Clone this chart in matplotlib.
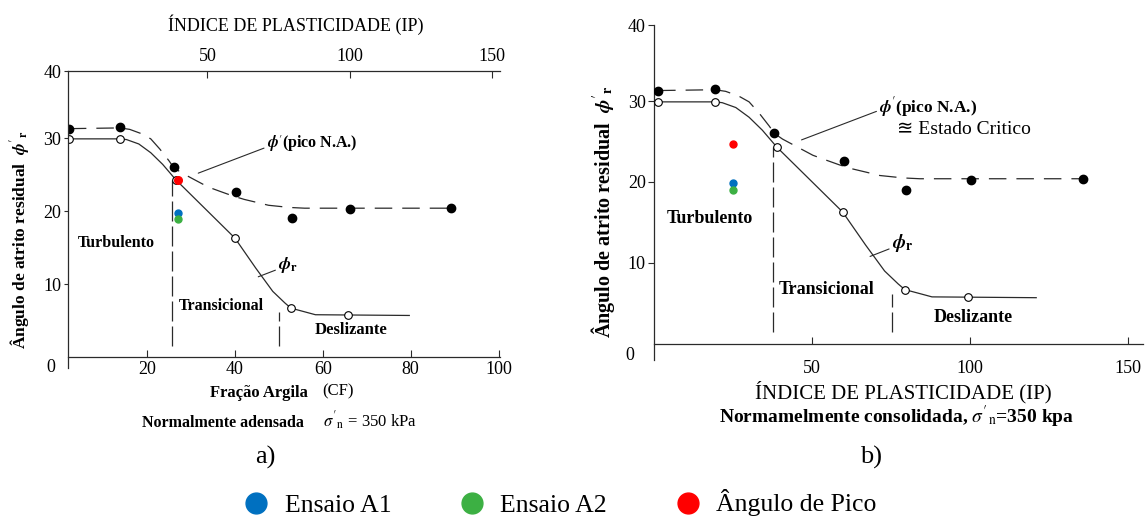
import matplotlib
matplotlib.use("Agg")
import matplotlib.pyplot as plt
from matplotlib.lines import Line2D
from matplotlib.transforms import blended_transform_factory

plt.rcParams['font.family'] = ['Liberation Serif', 'DejaVu Serif']
plt.rcParams['mathtext.fontset'] = 'stix'

# pontos (IP, angulo)
ip_pico = [1.3, 19.3, 38.1, 60.2, 79.8, 100.2, 135.8]
phi_pico = [31.3, 31.5, 26.0, 22.6, 19.0, 20.3, 20.4]
ip_res = [1.3, 19.3, 38.9, 59.7, 79.4, 99.3]
phi_res = [29.9, 29.9, 24.3, 16.3, 6.7, 5.8]

# curvas de tendencia
ip_pico_linha = [1.3, 19.3, 22.7, 26.9, 30.1, 33.3, 36.5, 38.1, 40.7, 45.0, 50.3,
                 54.5, 58.8, 63.0, 67.3, 71.5, 78.9, 84.2, 137.4]
phi_pico_linha = [31.3, 31.4, 31.2, 30.6, 29.9, 28.5, 26.9, 26.0, 25.3, 24.4, 23.3,
                  22.7, 22.1, 21.6, 21.2, 20.8, 20.5, 20.4, 20.4]
ip_res_linha = [1.3, 19.3, 21.6, 25.9, 30.1, 34.3, 38.9, 59.7, 67.0, 73.0, 77.3,
                79.4, 84.2, 88.0, 121.0]
phi_res_linha = [29.9, 29.9, 29.8, 29.2, 28.0, 26.4, 24.3, 16.3, 12.2, 9.0, 7.4,
                 6.7, 6.2, 5.8, 5.7]

# limites das zonas (IP) e altura das linhas tracejadas
ip_zonas = [37.7, 75.2]
topo_zonas = [24.3, 6.2]

# ensaios (a: em CF, b: em IP)
cf_ensaio_a = 27.2
ip_ensaio_b = 24.9
phi_a1 = [19.7, 19.9]
phi_a2 = [18.9, 19.0]
phi_pico_ens = [24.3, 24.7]

cores = ['#0070C0', '#3CB043', '#FF0000']
rotulos = ['Ensaio A1', 'Ensaio A2', 'Ângulo de Pico']

cf_ticks = [20, 40, 60, 80, 100]
ip_ticks = [50, 100, 150]
phi_ticks = [10, 20, 30]

LC = '#2a2a2a'
PHI_L = r"$\boldsymbol{\phi}'$(pico N.A.)"
PHI_R = r"$\boldsymbol{\phi}_{\mathbf{r}}$"
YLAB = r"Ângulo de atrito residual  $\boldsymbol{\phi}'_{\mathbf{r}}$"


def desenha_curvas(ax):
    ax.plot(ip_pico_linha, phi_pico_linha, color=LC, lw=0.9, dashes=(14, 8))
    ax.plot(ip_res_linha, phi_res_linha, color=LC, lw=0.9)
    for x, top in zip(ip_zonas, topo_zonas):
        ax.plot([x, x], [1.5, top], color=LC, lw=0.9, dashes=(16, 4))
    ax.plot(ip_pico, phi_pico, 'o', color='black', ms=6, zorder=3)
    ax.plot(ip_res, phi_res, 'o', mfc='white', mec='black', mew=0.8, ms=5.5, zorder=3)


fig = plt.figure(figsize=(11.47, 5.16), dpi=100)

# ---------------- painel a) ----------------
ax = fig.add_axes([68/1147, 1-368/516, 432/1147, (368-71)/516])
ax.set_xlim(2.1, 100.3)
ax.set_ylim(-1.5, 39.2)
ax_ip = ax.twiny()
ax_ip.set_xlim(1.0, 152.9)
ax.set_zorder(ax_ip.get_zorder() + 1)
ax.patch.set_visible(False)

desenha_curvas(ax_ip)
ax.plot(cf_ensaio_a, phi_a1[0], 'o', color=cores[0], ms=5, zorder=4)
ax.plot(cf_ensaio_a, phi_a2[0], 'o', color=cores[1], ms=5, zorder=4)
ax.plot(cf_ensaio_a, phi_pico_ens[0], 'o', color=cores[2], ms=5.5, zorder=4)

ax.spines['right'].set_visible(False)
ax.spines['top'].set_visible(False)
ax.spines['bottom'].set_position(('data', 0))
for s in ['left', 'right', 'bottom']:
    ax_ip.spines[s].set_visible(False)
for a in (ax, ax_ip):
    for s in a.spines.values():
        s.set_linewidth(0.9)
        s.set_color(LC)

ax.set_xticks(cf_ticks)
ax.set_yticks(phi_ticks + [39.2])
ax.set_yticklabels([str(t) for t in phi_ticks] + ['40'])
ax.tick_params(axis='x', direction='in', length=5, pad=3, labelsize=13, color=LC)
ax.tick_params(axis='y', direction='out', length=3, pad=2, labelsize=13, color=LC)
ax_ip.set_xticks(ip_ticks)
ax_ip.tick_params(axis='x', direction='in', length=5, pad=4, labelsize=13, color=LC)
ax.text(-0.03, -1.45, '0', transform=blended_transform_factory(ax.transAxes, ax.transData),
        ha='right', va='center', fontsize=13)

ax_ip.text(17.9, 15.6, 'Turbulento', ha='center', va='center', fontsize=11.5, fontweight='bold')
ax_ip.text(54.8, 7.0, 'Transicional', ha='center', va='center', fontsize=11.5, fontweight='bold')
ax_ip.text(100.5, 3.7, 'Deslizante', ha='center', va='center', fontsize=12, fontweight='bold')
ax_ip.annotate(PHI_L, xy=(46.8, 25.2), xytext=(70.9, 29.2), ha='left', va='center',
               fontsize=11.5, fontweight='bold',
               arrowprops=dict(arrowstyle='-', color=LC, lw=0.8, relpos=(0, 0.35), shrinkA=0, shrinkB=0))
ax_ip.annotate(PHI_R, xy=(67.9, 11.0), xytext=(74.9, 12.6), ha='left', va='center',
               fontsize=13, fontweight='bold',
               arrowprops=dict(arrowstyle='-', color=LC, lw=0.8, relpos=(0, 0.3), shrinkA=0, shrinkB=0))

fig.text(296/1147, 1-25/516, 'ÍNDICE DE PLASTICIDADE (IP)', ha='center', va='center', fontsize=13)
fig.text(20/1147, 1-240/516, YLAB, rotation=90, ha='center', va='center', fontsize=12.5,
         fontweight='bold')
fig.text(308/1147, 1-393/516, 'Fração Argila', ha='right', va='center', fontsize=12, fontweight='bold')
fig.text(322/1147, 1-391/516, '(CF)', ha='left', va='center', fontsize=12)
fig.text(304/1147, 1-423/516, 'Normalmente adensada', ha='right', va='center', fontsize=11.5,
         fontweight='bold')
fig.text(323/1147, 1-421/516, r"$\sigma'_{\mathrm{n}}$ = 350 kPa", ha='left', va='center', fontsize=12)
fig.text(265/1147, 1-457/516, 'a)', ha='center', va='center', fontsize=19)

# ---------------- painel b) ----------------
bx = fig.add_axes([654/1147, 1-360/516, 489/1147, (360-25)/516])
bx.set_xlim(0, 154.8)
bx.set_ylim(-2, 39.4)
desenha_curvas(bx)
bx.plot(ip_ensaio_b, phi_a1[1], 'o', color=cores[0], ms=5, zorder=4)
bx.plot(ip_ensaio_b, phi_a2[1], 'o', color=cores[1], ms=5, zorder=4)
bx.plot(ip_ensaio_b, phi_pico_ens[1], 'o', color=cores[2], ms=5, zorder=4)

bx.spines['right'].set_visible(False)
bx.spines['top'].set_visible(False)
bx.spines['bottom'].set_position(('data', 0))
for s in bx.spines.values():
    s.set_linewidth(0.9)
    s.set_color(LC)
bx.set_xticks(ip_ticks)
bx.set_yticks(phi_ticks + [39.4])
bx.set_yticklabels([str(t) for t in phi_ticks] + ['40'])
bx.tick_params(axis='x', direction='in', length=5, pad=12, labelsize=13, color=LC)
bx.tick_params(axis='y', direction='out', length=4, pad=2, labelsize=13, color=LC)
bx.text(-0.04, -1.4, '0', transform=blended_transform_factory(bx.transAxes, bx.transData),
        ha='right', va='center', fontsize=13)

bx.text(17.7, 15.5, 'Turbulento', ha='center', va='center', fontsize=13, fontweight='bold')
bx.text(54.5, 6.7, 'Transicional', ha='center', va='center', fontsize=13, fontweight='bold')
bx.text(101, 3.3, 'Deslizante', ha='center', va='center', fontsize=13, fontweight='bold')
bx.annotate(PHI_L, xy=(46.7, 25.2), xytext=(71.3, 29.3), ha='left', va='center',
            fontsize=12.5, fontweight='bold',
            arrowprops=dict(arrowstyle='-', color=LC, lw=0.8, relpos=(0, 0.35), shrinkA=0, shrinkB=0))
bx.text(76.9, 26.5, '≊ Estado Critico', ha='left', va='center', fontsize=14,
        family=['Liberation Serif', 'DejaVu Sans'])
bx.annotate(PHI_R, xy=(68.4, 10.8), xytext=(75.3, 12.4), ha='left', va='center',
            fontsize=14, fontweight='bold',
            arrowprops=dict(arrowstyle='-', color=LC, lw=0.8, relpos=(0, 0.3), shrinkA=0, shrinkB=0))

fig.text(603/1147, 1-212/516, YLAB, rotation=90, ha='center', va='center', fontsize=14.5,
         fontweight='bold')
fig.text(903/1147, 1-392/516, 'ÍNDICE DE PLASTICIDADE (IP)', ha='center', va='center', fontsize=15)
fig.text(897/1147, 1-417/516, r"Normamelmente consolidada, $\sigma'_{\mathrm{n}}$=350 kpa", ha='center',
         va='center', fontsize=14, fontweight='bold')
fig.text(871/1147, 1-457/516, 'b)', ha='center', va='center', fontsize=19)

# ---------------- legenda ----------------
handles = [Line2D([], [], ls='none', marker='o', ms=15, color=c) for c in cores]
fig.legend(handles, rotulos, loc='center left', bbox_to_anchor=(246/1147, 1-503/516), ncol=3,
           frameon=False, fontsize=18.5, handlelength=0.8, handletextpad=0.7, columnspacing=2.75,
           borderpad=0, borderaxespad=0)

fig.savefig('out.png', dpi=100)
